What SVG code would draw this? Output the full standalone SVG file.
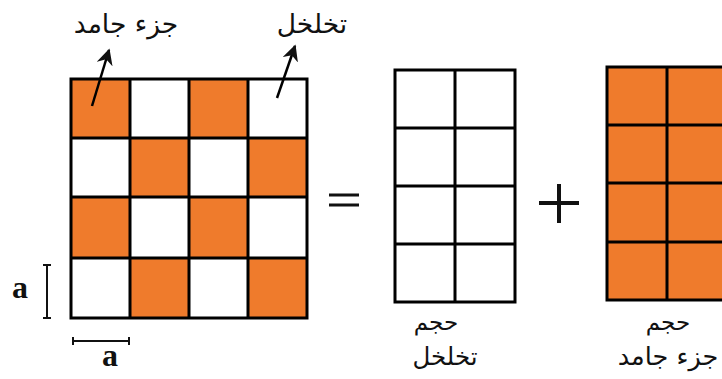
<svg xmlns="http://www.w3.org/2000/svg" width="722" height="379" viewBox="0 0 722 379">
<defs>
<style>
.o{fill:#ef7b2c}
.g{fill:none;stroke:#000;stroke-width:3}
.ln{stroke:#000;stroke-width:2.5;fill:none}
.ar{font-family:"DejaVu Sans",sans-serif;fill:#111;text-anchor:middle;direction:rtl}
.lab{font-family:"Liberation Serif",serif;font-weight:bold;font-size:32px;fill:#111;text-anchor:middle}
.dim{stroke:#111;stroke-width:2;fill:none}
</style>
<marker id="ah" viewBox="0 0 10 10" refX="9" refY="5" markerWidth="6.5" markerHeight="6.5" orient="auto" markerUnits="strokeWidth">
<path d="M0,0 L10,5 L0,10 L3,5 z" fill="#111"/>
</marker>
</defs>
<rect width="722" height="379" fill="#fff"/>

<g id="checker">
<rect class="o" x="71" y="79" width="59" height="59"/>
<rect class="o" x="189" y="79" width="59" height="59"/>
<rect class="o" x="130" y="138" width="59" height="59"/>
<rect class="o" x="248" y="138" width="59" height="59"/>
<rect class="o" x="71" y="197" width="59" height="61"/>
<rect class="o" x="189" y="197" width="59" height="61"/>
<rect class="o" x="130" y="258" width="59" height="60"/>
<rect class="o" x="248" y="258" width="59" height="60"/>
<path class="g" d="M71,79H307V318H71Z M130,79V318 M189,79V318 M248,79V318 M71,138H307 M71,197H307 M71,258H307"/>
</g>

<g id="porous-grid">
<path class="g" d="M395,70H515V302H395Z M455,70V302 M395,128H515 M395,186H515 M395,244H515"/>
</g>

<g id="solid-grid">
<rect class="o" x="607" y="67" width="120" height="233"/>
<path class="g" d="M607,67H727V300H607Z M667,67V300 M607,125H727 M607,183H727 M607,242H727"/>
</g>

<g id="equals">
<path d="M329,195H359 M329,205H359" stroke="#111" stroke-width="3"/>
</g>
<g id="plus">
<path d="M539,203H579 M559,184V223" stroke="#111" stroke-width="4"/>
</g>

<g id="connectors">
<line class="ln" x1="92" y1="106" x2="109" y2="50" marker-end="url(#ah)"/>
<line class="ln" x1="277" y1="98" x2="295" y2="46" marker-end="url(#ah)"/>
</g>

<g id="labels">
<text class="ar" x="126" y="33" font-size="26.5">جزء جامد</text>
<text class="ar" x="312" y="33" font-size="26.5">تخلخل</text>
<text class="ar" x="436" y="330" font-size="23">حجم</text>
<text class="ar" x="445" y="365" font-size="24.5">تخلخل</text>
<text class="ar" x="668" y="330" font-size="23">حجم</text>
<text class="ar" x="668" y="365" font-size="25.5">جزء جامد</text>
</g>

<g id="dimensions">
<path class="dim" d="M47,265V318 M43,265H51 M43,318H51"/>
<path class="dim" d="M73,341H129 M73,337V345 M129,337V345"/>
<text class="lab" x="20" y="298">a</text>
<text class="lab" x="110" y="366">a</text>
</g>
</svg>
